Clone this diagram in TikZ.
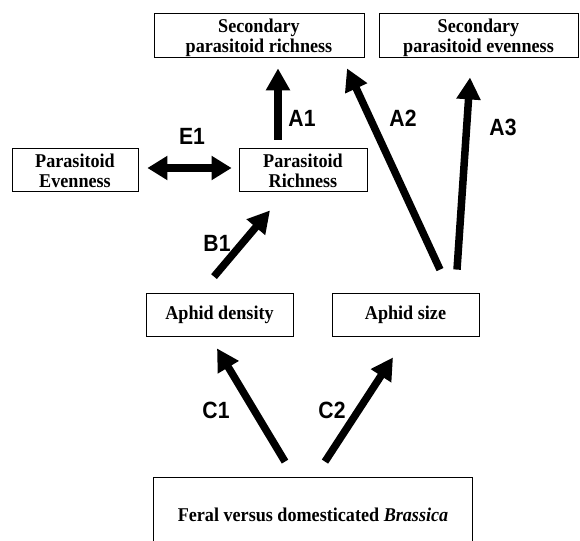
\documentclass[tikz,border=0pt]{standalone}
\usepackage{fontspec}
\setmainfont[FakeStretch=0.93]{Liberation Serif}
\newfontfamily\labelfont[FakeStretch=0.9]{Liberation Sans}
\usetikzlibrary{arrows.meta,calc}
\newcommand\twolines[2]{\raisebox{0pt}[\height][\dimexpr\depth-8pt\relax]{\begin{tabular}{@{}c@{}}#1\\#2\end{tabular}}}
\tikzset{
  boxfont/.style={font=\fontsize{19.5}{20}\selectfont\bfseries},
  box/.style={draw, line width=0.8pt, inner sep=0pt, align=center, boxfont},
  bigarrow/.style={line width=7.5pt, -{Triangle[length=22pt,width=23pt]}},
  bothways/.style={line width=7.5pt, {Triangle[length=20pt,width=23pt]}-{Triangle[length=20pt,width=23pt]}},
  lbl/.style={font=\labelfont\fontsize{23.5}{26}\selectfont\bfseries, inner sep=0pt}
}
\begin{document}
\begin{tikzpicture}[x=1pt,y=-1pt]
\useasboundingbox (0,0) rectangle (580,540);
\clip (0,0) rectangle (580,540);
% boxes
\node[box, minimum width=210pt, minimum height=44pt] (sr) at (259,35) {\twolines{Secondary}{parasitoid richness}};
\node[box, minimum width=199pt, minimum height=44pt] (se) at (478.5,35) {\twolines{Secondary}{parasitoid evenness}};
\node[box, minimum width=128pt, minimum height=43pt] (pr) at (303,169.5) {\twolines{Parasitoid}{Richness}};
\node[box, minimum width=126pt, minimum height=43pt] (pe) at (75,169.5) {\twolines{Parasitoid}{Evenness}};
\node[box, minimum width=147pt, minimum height=43pt] (ad) at (219.5,314.5) {Aphid density};
\node[box, minimum width=147pt, minimum height=43pt] (as) at (405.5,314.5) {Aphid size};
\node[box, draw=none, minimum width=318pt, minimum height=80pt] (fb) at (313,518) {};
\node[boxfont, inner sep=0pt] (ft) at (313,515) {Feral versus domesticated \textit{Brassica}};
\draw[line width=0.8pt] (fb.south west) -- (fb.north west) -- (fb.north east) -- (fb.south east);
% arrows
\draw[bigarrow] ($(pr.north)+(-25,-8)$) -- ($(sr.south)+(19,11)$);
\draw[bigarrow] ($(as.north)+(34.5,-23)$) -- ($(sr.south)+(88,11)$);
\draw[bigarrow] ($(as.north)+(51.5,-23)$) -- ($(se.south)+(-8.5,20)$);
\draw[bothways] ($(pe.east)+(9,-1.5)$) -- ($(pr.west)+(-7,-1.5)$);
\draw[bigarrow] ($(ad.north)+(-5.5,-16)$) -- ($(pr.south)+(-33,19)$);
\draw[bigarrow] ($(fb.north)+(-28,-16)$) -- ($(ad.south)+(-2.5,12)$);
\draw[bigarrow] ($(fb.north)+(12,-16)$) -- ($(as.south)+(-12.5,21)$);
% labels
\node[lbl] (la1) at (302,118) {A1};
\node[lbl] (la2) at (403,118) {A2};
\node[lbl] (la3) at (503,127) {A3};
\node[lbl] (le1) at (192,136) {E1};
\node[lbl] (lb1) at (217,243) {B1};
\node[lbl] (lc1) at (216,410) {C1};
\node[lbl] (lc2) at (332,410) {C2};
\end{tikzpicture}
\end{document}
